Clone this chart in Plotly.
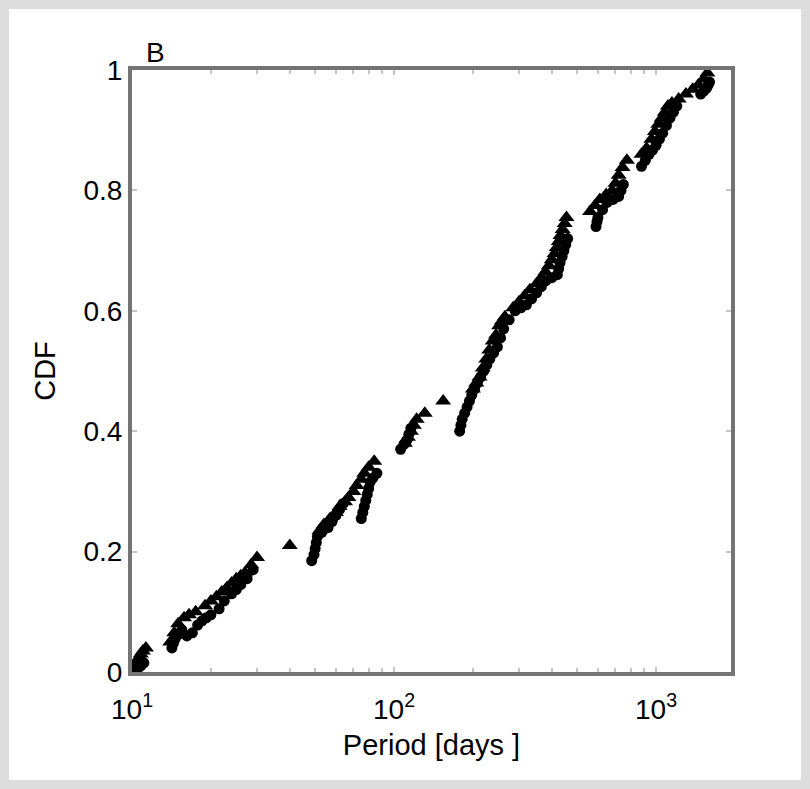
import plotly.graph_objects as go

# Period (days) and cumulative fraction for the two samples
tri_period = [10.1, 10.2, 10.3, 10.4, 10.5, 10.7, 10.8, 11.0, 11.3,
              14.0, 14.5, 15.0, 15.8, 16.5, 17.5, 19.0, 20.0, 21.0, 22.0, 23.0, 24.0,
              25.0, 26.0, 27.0, 28.5, 30.0, 40.0,
              52.0, 54.0, 57.0, 60.0, 62.0, 65.0, 67.0, 70.0, 72.0, 75.0, 77.0, 80.0, 84.0,
              110.0, 113.0, 116.0, 119.0, 122.0, 131.0, 154.0,
              200.0, 206.0, 212.0, 218.0, 225.0, 231.0, 238.0, 245.0, 252.0, 258.0, 265.0,
              285.0, 300.0, 315.0, 330.0, 350.0, 365.0, 378.0, 390.0, 400.0, 410.0, 418.0,
              425.0, 432.0, 440.0, 448.0, 455.0,
              560.0, 585.0, 610.0, 645.0, 680.0, 700.0, 720.0, 745.0, 774.0,
              880.0, 920.0, 960.0, 990.0, 1020.0, 1050.0, 1080.0, 1110.0, 1150.0,
              1220.0, 1300.0, 1380.0, 1450.0, 1520.0, 1570.0]
tri_cdf = [0.0, 0.005, 0.01, 0.015, 0.02, 0.025, 0.03, 0.035, 0.04,
           0.05, 0.065, 0.08, 0.09, 0.095, 0.10, 0.11, 0.118, 0.125, 0.133, 0.14, 0.148,
           0.155, 0.16, 0.165, 0.178, 0.19, 0.21,
           0.235, 0.245, 0.255, 0.265, 0.275, 0.283, 0.29, 0.30, 0.31, 0.32, 0.33, 0.34, 0.35,
           0.38, 0.39, 0.40, 0.41, 0.42, 0.43, 0.45,
           0.47, 0.48, 0.49, 0.505, 0.52, 0.535, 0.55, 0.56, 0.575, 0.583, 0.59,
           0.605, 0.615, 0.625, 0.635, 0.645, 0.655, 0.665, 0.675, 0.685, 0.695, 0.705,
           0.715, 0.725, 0.735, 0.745, 0.755,
           0.765, 0.775, 0.785, 0.793, 0.80, 0.812, 0.825, 0.838, 0.85,
           0.86, 0.87, 0.885, 0.898, 0.91, 0.92, 0.93, 0.94, 0.945,
           0.952, 0.96, 0.968, 0.975, 0.985, 0.995]

dot_period = [10.2, 10.5, 10.8, 11.1,
              14.2, 14.4, 14.6, 15.0, 15.5, 16.2, 17.0, 17.8, 18.5, 19.2, 20.0, 21.5, 22.5,
              24.0, 25.0, 26.0, 27.5, 29.0,
              48.5, 49.5, 50.0, 50.5, 51.0, 53.0, 56.0, 58.0, 60.0, 62.0, 64.0,
              75.0, 76.0, 77.0, 78.0, 79.0, 80.0, 81.0, 83.0, 86.0,
              106.0, 109.0, 112.0, 114.0, 116.0,
              178.0, 180.0, 182.0, 186.0, 190.0, 194.0, 198.0, 203.0, 208.0, 214.0, 220.0,
              226.0, 232.0, 240.0, 248.0, 255.0, 262.0, 275.0, 290.0, 305.0, 320.0, 335.0,
              350.0, 365.0, 380.0, 400.0, 420.0, 425.0, 430.0, 438.0, 445.0, 452.0, 460.0,
              590.0, 595.0, 600.0, 625.0, 650.0, 685.0, 720.0, 735.0, 750.0,
              880.0, 910.0, 940.0, 970.0, 1000.0, 1030.0, 1060.0, 1095.0, 1130.0, 1165.0, 1200.0,
              1480.0, 1520.0, 1560.0, 1580.0, 1600.0]
dot_cdf = [0.0, 0.005, 0.01, 0.015,
           0.04, 0.048, 0.055, 0.062, 0.07, 0.06, 0.065, 0.078, 0.085, 0.09, 0.095, 0.105, 0.118,
           0.13, 0.137, 0.145, 0.155, 0.17,
           0.185, 0.195, 0.205, 0.215, 0.225, 0.232, 0.24, 0.25, 0.26, 0.27, 0.28,
           0.255, 0.265, 0.275, 0.285, 0.295, 0.305, 0.315, 0.322, 0.33,
           0.37, 0.378, 0.385, 0.395, 0.405,
           0.40, 0.41, 0.42, 0.43, 0.44, 0.45, 0.46, 0.47, 0.48, 0.49, 0.50,
           0.51, 0.52, 0.53, 0.54, 0.555, 0.57, 0.585, 0.60, 0.605, 0.61, 0.62,
           0.63, 0.64, 0.65, 0.655, 0.66, 0.67, 0.68, 0.69, 0.70, 0.71, 0.72,
           0.74, 0.748, 0.755, 0.768, 0.78, 0.785, 0.79, 0.80, 0.81,
           0.84, 0.85, 0.86, 0.867, 0.875, 0.885, 0.895, 0.908, 0.92, 0.93, 0.94,
           0.96, 0.965, 0.97, 0.975, 0.98]

x_ticks = [10, 100, 1000]
x_tick_text = ["10<sup>1</sup>", "10<sup>2</sup>", "10<sup>3</sup>"]
x_minor = [20, 30, 40, 50, 60, 70, 80, 90, 200, 300, 400, 500, 600, 700, 800, 900]
y_ticks = [0, 0.2, 0.4, 0.6, 0.8, 1]
y_tick_text = ["0", "0.2", "0.4", "0.6", "0.8", "1"]

FONT = "Liberation Sans, Arial, sans-serif"

fig = go.Figure()
fig.add_trace(go.Scatter(x=dot_period, y=dot_cdf, mode="markers",
                         marker=dict(symbol="circle", size=11, color="black",
                                     line=dict(width=0)),
                         showlegend=False))
fig.add_trace(go.Scatter(x=tri_period, y=tri_cdf, mode="markers",
                         marker=dict(symbol="triangle-up", size=14, color="black",
                                     line=dict(width=0)),
                         showlegend=False))

axis_common = dict(showgrid=False, zeroline=False, showline=True, linecolor="#747474",
                   linewidth=4, mirror="ticks", ticks="inside", tickcolor="#c4c4c4",
                   ticklen=5, tickwidth=2,
                   tickfont=dict(family=FONT, size=28, color="black"))

fig.update_xaxes(type="log", range=[1, 3.286], tickvals=x_ticks, ticktext=x_tick_text,
                 minor=dict(ticks="inside", tickvals=x_minor, ticklen=4,
                            tickcolor="#c4c4c4", tickwidth=2),
                 ticklabelstandoff=9,
                 title=dict(text="Period [days ]", font=dict(family=FONT, size=29, color="black"),
                            standoff=12),
                 **axis_common)
fig.update_yaxes(range=[0, 1], tickvals=y_ticks, ticktext=y_tick_text,
                 title=dict(text="CDF", font=dict(family=FONT, size=29, color="black"),
                            standoff=20),
                 **axis_common)

# white panel inside the grey frame of the page
fig.add_shape(type="rect", xref="paper", yref="paper",
              x0=(9 - 132) / 599, x1=(801 - 132) / 599,
              y0=(672 - 780) / 602, y1=(672 - 9) / 602,
              fillcolor="white", line=dict(width=0), layer="below")

fig.add_annotation(text="B", xref="paper", yref="paper", x=0.02, y=1.0,
                   xanchor="left", yanchor="bottom", showarrow=False,
                   font=dict(family=FONT, size=28, color="black"))

fig.update_layout(width=810, height=789, margin=dict(l=132, r=79, t=70, b=117),
                  paper_bgcolor="#dddddd", plot_bgcolor="white")

fig.write_html("out.html")
